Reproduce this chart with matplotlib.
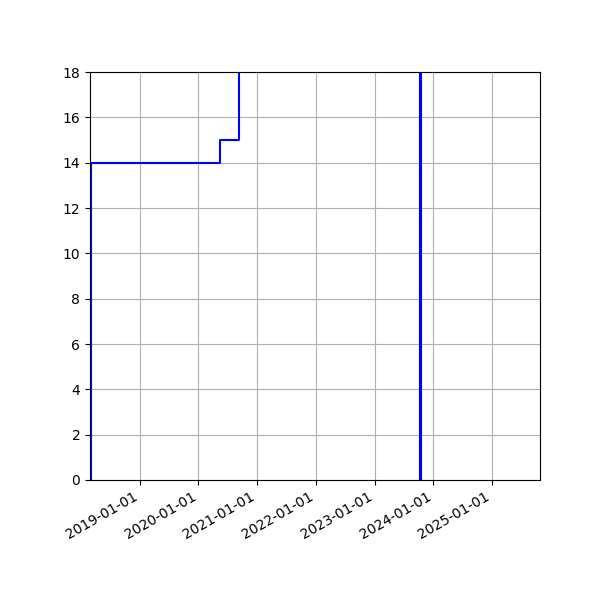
import matplotlib
matplotlib.use("Agg")
import matplotlib.pyplot as plt
import matplotlib.dates as mdates
import numpy as np
import datetime as dt

dates = ["2018-02-25", "2018-03-02", "2020-05-12", "2020-09-06",
         "2023-10-08", "2023-10-16", "2025-10-26"]
values = [0, 14, 15, 40, 0, 40, 40]

x = [dt.datetime.strptime(d, "%Y-%m-%d") for d in dates]

fig, ax = plt.subplots(figsize=(6, 6), dpi=100)
ax.plot(x, values, drawstyle="steps-post", color="b", lw=1.5)
ax.set_xlim(x[0], x[-1])
ax.set_ylim(0, 18)
ax.set_yticks(np.arange(0, 19, 2))
ax.xaxis.set_major_locator(mdates.YearLocator())
ax.xaxis.set_major_formatter(mdates.DateFormatter("%Y-%m-%d"))
ax.grid(True)
fig.autofmt_xdate()
fig.subplots_adjust(left=0.15, right=0.9, top=0.88, bottom=0.2)
fig.savefig("out.png", dpi=100)
